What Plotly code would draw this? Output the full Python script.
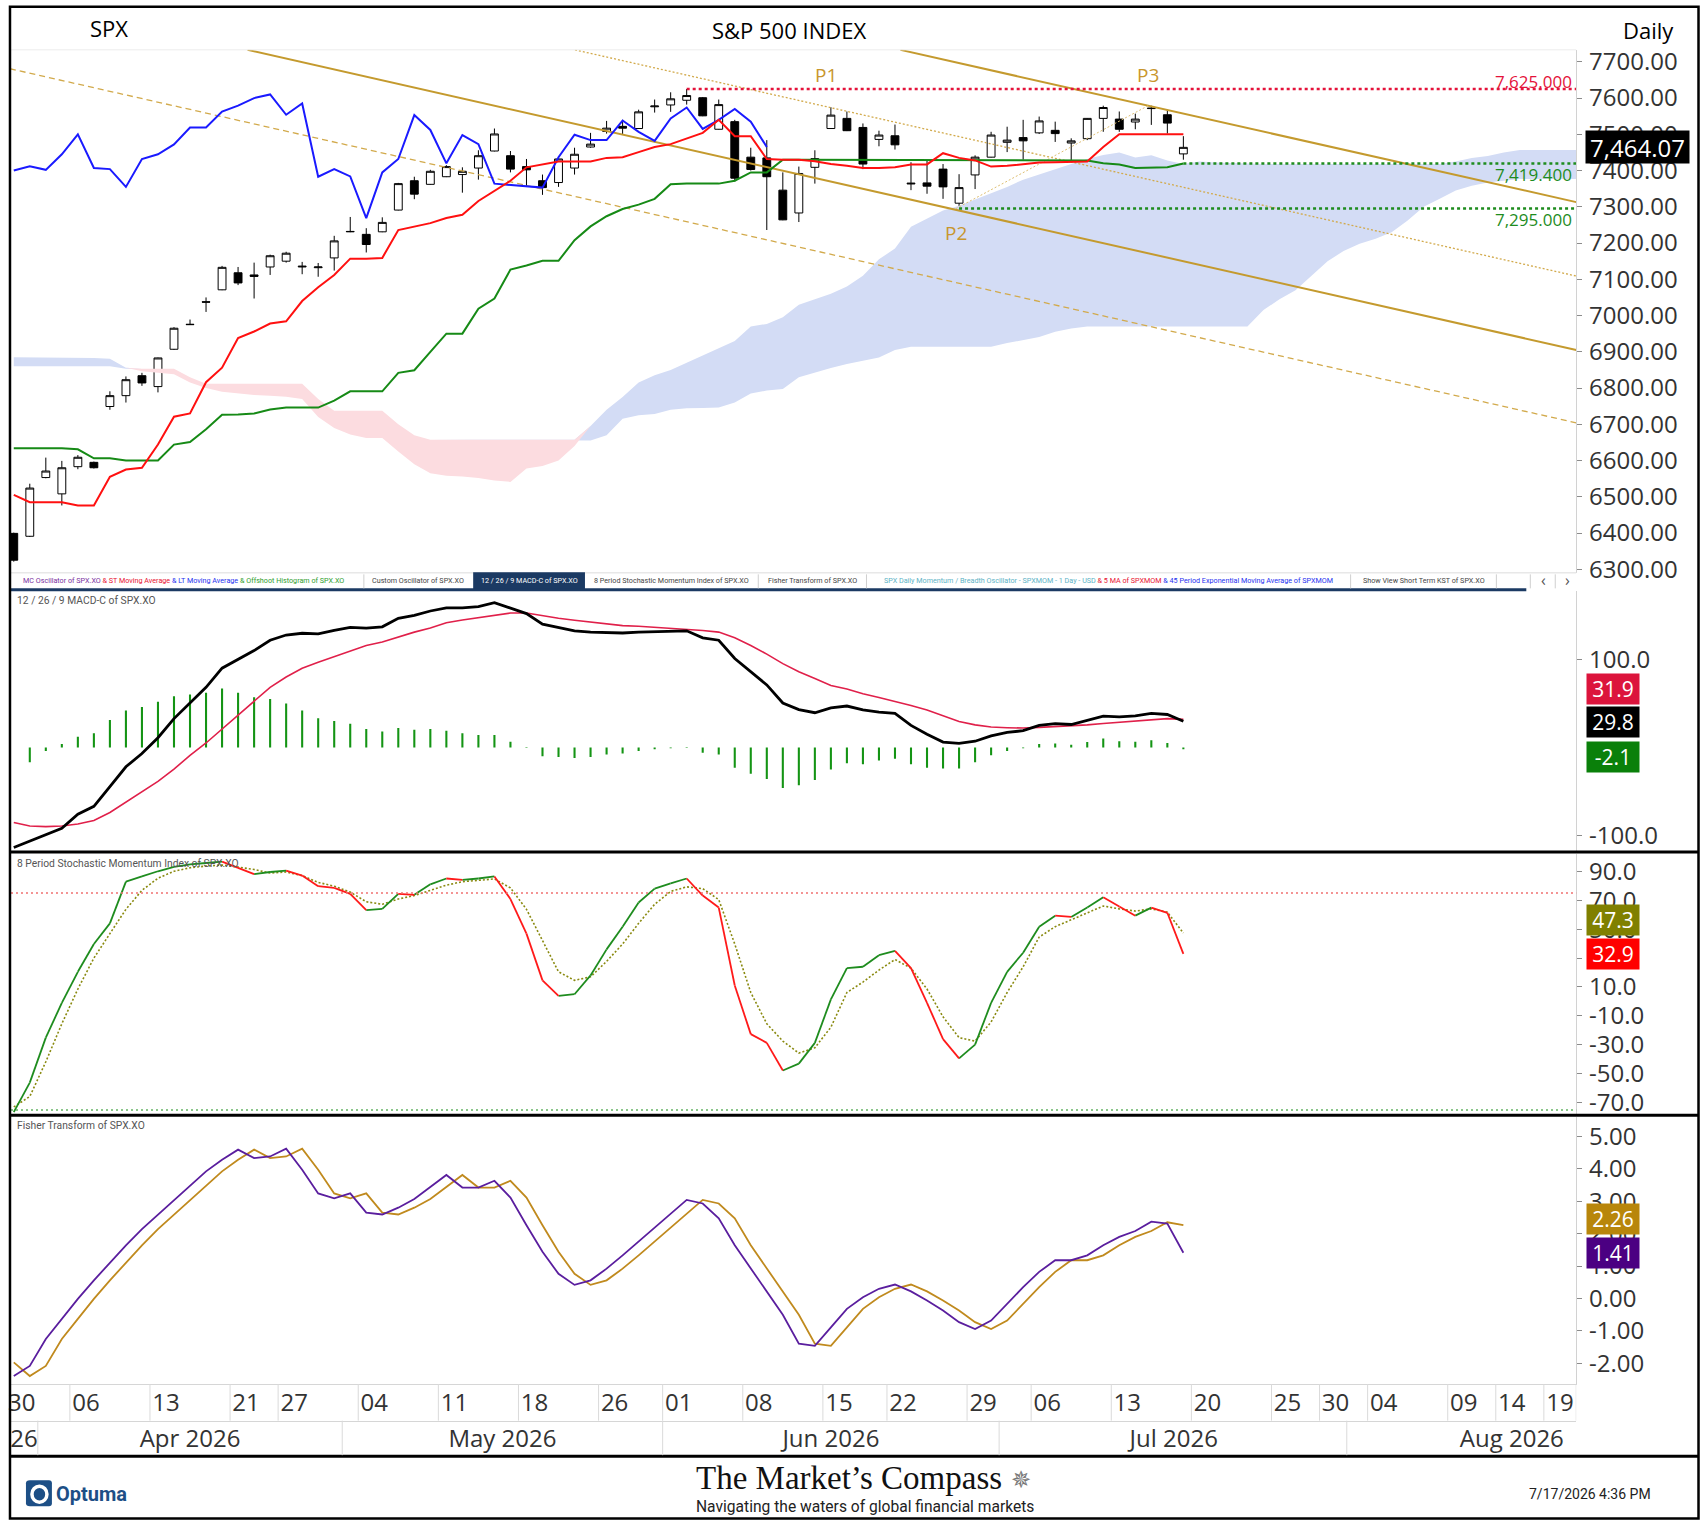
import plotly.graph_objects as go

W, H = 1702, 1531
FONT = "Open Sans"
NARROW = "Roboto"

# ---------------- data (bar 0 = 30 Mar 2026, bar 73 = 17 Jul 2026) ----------------
bar_open = [6399, 6391, 6553, 6508, 6583, 6595, 6749, 6779, 6834, 6804,
            6907, 6976, 7038, 7071, 7118, 7112, 7134, 7150, 7134, 7132,
            7159, 7231, 7224, 7231, 7291, 7372, 7362, 7383, 7389, 7407,
            7454, 7441, 7411, 7372, 7367, 7407, 7465, 7508, 7522, 7516,
            7576, 7581, 7594, 7601, 7514, 7535, 7437, 7435, 7346, 7283,
            7409, 7516, 7544, 7519, 7486, 7496, 7363, 7366, 7404, 7310,
            7388, 7437, 7478, 7491, 7504, 7511, 7476, 7488, 7544, 7542,
            7534, 7571, 7554, 7446]
bar_high = [6401, 6536, 6608, 6599, 6615, 6597, 6791, 6832, 6842, 6884,
            6968, 6989, 7050, 7137, 7134, 7146, 7168, 7176, 7148, 7145,
            7220, 7272, 7241, 7271, 7366, 7383, 7402, 7415, 7409, 7456,
            7516, 7454, 7432, 7389, 7437, 7463, 7504, 7537, 7540, 7568,
            7596, 7616, 7625, 7603, 7596, 7540, 7463, 7484, 7395, 7411,
            7456, 7575, 7563, 7530, 7510, 7527, 7423, 7428, 7418, 7390,
            7442, 7507, 7521, 7540, 7549, 7535, 7489, 7545, 7579, 7563,
            7557, 7579, 7568, 7495]
bar_low = [6321, 6389, 6551, 6476, 6576, 6578, 6740, 6760, 6806, 6788,
           6905, 6975, 7010, 7070, 7084, 7047, 7112, 7146, 7114, 7107,
           7124, 7230, 7174, 7230, 7290, 7321, 7361, 7382, 7339, 7375,
           7453, 7395, 7358, 7333, 7355, 7389, 7463, 7502, 7501, 7515,
           7560, 7562, 7582, 7550, 7513, 7370, 7400, 7236, 7263, 7258,
           7364, 7515, 7509, 7404, 7467, 7458, 7346, 7336, 7322, 7295,
           7349, 7436, 7451, 7430, 7501, 7479, 7426, 7484, 7507, 7507,
           7514, 7526, 7502, 7430]
bar_close = [6325, 6524, 6571, 6580, 6609, 6580, 6779, 6823, 6814, 6883,
             6965, 6975, 7037, 7133, 7090, 7108, 7165, 7172, 7136, 7134,
             7206, 7232, 7196, 7257, 7364, 7335, 7398, 7411, 7398, 7441,
             7501, 7404, 7402, 7353, 7432, 7445, 7473, 7517, 7517, 7562,
             7578, 7598, 7607, 7551, 7582, 7379, 7403, 7383, 7264, 7392,
             7433, 7553, 7510, 7418, 7498, 7471, 7365, 7357, 7355, 7353,
             7437, 7498, 7484, 7482, 7537, 7502, 7482, 7544, 7574, 7514,
             7542, 7572, 7531, 7464.07]

tenkan = [6505, 6485, 6485, 6485, 6476, 6476, 6555, 6575, 6580, 6644,
          6721, 6730, 6816, 6856, 6938, 6956, 6978, 6984, 7040, 7078,
          7112, 7157, 7157, 7159, 7236, 7246, 7255, 7269, 7278, 7316,
          7344, 7372, 7409, 7418, 7425, 7425, 7425, 7435, 7437, 7451,
          7465, 7473, 7489, 7504, 7540, 7495, 7495, 7432, 7430, 7430,
          7426, 7418, 7413, 7407, 7407, 7409, 7417, 7417, 7448, 7435,
          7428, 7411, 7413, 7417, 7422, 7423, 7423, 7425, 7465, 7500,
          7500, 7500, 7500, 7500]
kijun = [6634, 6634, 6634, 6634, 6631, 6606, 6606, 6600, 6600, 6600,
         6644, 6651, 6686, 6726, 6727, 6730, 6741, 6746, 6746, 6746,
         6765, 6791, 6791, 6791, 6842, 6849, 6900, 6950, 6950, 7019,
         7047, 7127, 7138, 7151, 7151, 7208, 7246, 7274, 7294, 7306,
         7322, 7362, 7364, 7364, 7364, 7372, 7395, 7395, 7430, 7430,
         7430, 7430, 7430, 7430, 7430, 7430, 7430, 7430, 7430, 7430,
         7430, 7430, 7430, 7430, 7430, 7430, 7430, 7428, 7420, 7417,
         7407, 7408, 7409, 7419.4]
chikou = [7400, 7412, 7402, 7445, 7500, 7407, 7404, 7355, 7432, 7445,
          7472, 7519, 7519, 7563, 7579, 7600, 7610, 7554, 7585, 7383,
          7404, 7384, 7269, 7395, 7432, 7553, 7512, 7420, 7498, 7473,
          7364, 7361, 7358, 7353, 7437, 7499, 7484, 7484, 7538, 7507,
          7482, 7544, 7574, 7515, 7540, 7570, 7535, 7465]
span_a = [6885, 6885, 6885, 6885, 6884, 6883, 6881, 6856, 6846, 6842,
          6838, 6815, 6800, 6790, 6785, 6781, 6779, 6776, 6770, 6720,
          6690, 6672, 6662, 6662, 6625, 6590, 6565, 6558, 6556, 6552,
          6545, 6541, 6578, 6585, 6600, 6640, 6695, 6740, 6775, 6815,
          6835, 6850, 6870, 6890, 6910, 6930, 6970, 6977, 6995, 7030,
          7045, 7060, 7080, 7110, 7155, 7185, 7245, 7268, 7290, 7303,
          7320, 7338, 7355, 7375, 7390, 7403, 7418, 7432, 7443, 7450,
          7436, 7442, 7428, 7418, 7425, 7422, 7420, 7418, 7418, 7418,
          7418, 7418, 7418, 7418, 7418, 7418, 7418, 7418, 7418, 7418,
          7425, 7435, 7440, 7450, 7457, 7457, 7457, 7457, 7457, 7457]
span_b = [6860, 6860, 6860, 6860, 6860, 6860, 6860, 6853, 6853, 6853,
          6853, 6830, 6812, 6812, 6812, 6812, 6812, 6812, 6812, 6770,
          6737, 6737, 6737, 6737, 6700, 6670, 6657, 6657, 6657, 6657,
          6657, 6657, 6657, 6657, 6657, 6657, 6655, 6670, 6715, 6725,
          6728, 6740, 6744, 6745, 6746, 6760, 6785, 6793, 6797, 6830,
          6843, 6855, 6866, 6876, 6884, 6905, 6914, 6914, 6914, 6914,
          6914, 6914, 6924, 6932, 6941, 6955, 6964, 6970, 6970, 6970,
          6970, 6970, 6970, 6970, 6970, 6970, 6970, 6970, 7015, 7045,
          7070, 7110, 7150, 7178, 7198, 7212, 7230, 7262, 7300, 7322,
          7345, 7358, 7367, 7372, 7377, 7377, 7377, 7377, 7377, 7377]

macd = [-113.8, -106.7, -100, -92, -76, -67, -44.5, -22, -7, 11,
        32.7, 50.5, 68.3, 90, 100, 110, 121.8, 127.7, 129.7, 128.9,
        133, 136.4, 135.6, 137, 146.7, 150, 155, 158.6, 158.6, 160,
        164.5, 158, 152, 140, 136.4, 132.5, 131, 130.5, 130, 131,
        131.7, 132.5, 132.5, 124.5, 121.8, 101, 86, 71, 50.5, 43,
        39.4, 45, 47, 42.6, 40, 38.6, 25, 15, 6, 4.5,
        7, 13, 17, 19, 25, 27, 26, 31, 35.5, 34.7,
        35.8, 38.6, 37.4, 29.8]
macd_signal = [-85.3, -89.3, -90, -89.3, -87, -83, -74, -62, -50.5, -38.6,
               -24.7, -9, 5, 20.8, 36.6, 52.5, 68.3, 80, 90, 96.8,
               103, 110, 115.8, 119.8, 125.7, 131, 135.6, 141.6, 144.7, 147.5,
               150.7, 152.7, 152.7, 149.5, 146.7, 144.4, 142.4, 140.4, 138.4, 137.6,
               136.4, 135.6, 134.8, 132.9, 131, 124.5, 115.8, 106, 95.2, 86,
               78.2, 70.3, 66.3, 61, 56.8, 52.5, 47.7, 42.6, 35.8, 29.5,
               25.6, 23.2, 22.4, 22, 22.8, 23.6, 24, 25.6, 27.1, 28.3,
               29.5, 31, 32.7, 31.9]
macd_hist = [None, -17, -4, 4, 12, 16, 31, 42, 46, 52,
             58, 60, 62, 67, 62, 57, 55, 50, 42, 33,
             30, 27, 21, 18, 22, 20, 21, 19, 16, 14,
             14, 6.5, 0.5, -10, -11, -12, -11, -8, -7, -4,
             -2, -1, 0.5, -6, -8, -23, -30, -36, -46, -43,
             -37, -25, -18, -19, -15, -13, -19, -23, -24, -24,
             -17, -9, -4, -1, 4, 4.5, 3, 6, 10, 7,
             6.5, 8, 5, -2.1]

smi = [-76.5, -56.1, -25, -1, 20.5, 39.7, 54, 82.8, 86.4, 90,
       93, 94.8, 95.7, 96.7, 92.4, 88, 89.5, 90.5, 87, 79.7,
       78.5, 74.4, 63.2, 64, 74.4, 73.7, 81, 85, 84, 85,
       86.4, 70.8, 46.9, 14.6, 3.8, 5, 18, 36, 51.7, 68.4,
       78, 81.6, 85, 73.2, 64.9, 11, -22.6, -28.6, -47.7, -43,
       -28.6, 1.4, 23, 24, 32, 35, 23, -1, -26, -39.3,
       -29.8, -1, 20.5, 33.7, 51.7, 59.3, 58.4, 64.9, 72, 65.6,
       59.3, 64.9, 61.3, 32.9]
smi_signal = [-72.9, -65.7, -41.7, -15.4, 8.6, 30, 46.9, 63.7, 76.8, 85.2,
              90, 92.4, 93.6, 94.3, 92.9, 91.2, 88.8, 89.5, 87, 82.3,
              79.7, 75.6, 68.9, 67.2, 70.8, 73.2, 76.8, 80.4, 82.8, 84,
              84.7, 78.5, 63.7, 42.1, 20.5, 14.6, 17, 27.7, 39.7, 54,
              67.2, 76.1, 79.2, 78, 70.4, 39.7, 6.2, -15.4, -27.4, -35.7,
              -32, -17.8, 6.2, 13.4, 21.7, 29, 23, 8.6, -10.6, -25,
              -27.4, -14.2, 6.2, 24, 44.5, 51.7, 56.5, 61.3, 66, 64,
              62.5, 64, 61.7, 47.3]
smi_levels = [75, -75]

fisher = [-2.39, -2.08, -1.25, -0.63, -0.01, 0.56, 1.11, 1.64, 2.14, 2.59,
          3.04, 3.48, 3.92, 4.28, 4.59, 4.33, 4.38, 4.62, 3.97, 3.24,
          3.09, 3.24, 2.65, 2.59, 2.80, 3.07, 3.43, 3.81, 3.42, 3.42,
          3.63, 3.11, 2.26, 1.44, 0.76, 0.42, 0.56, 0.92, 1.33, 1.75,
          2.18, 2.59, 3.04, 2.93, 2.47, 1.64, 0.92, 0.22, -0.50, -1.39,
          -1.46, -0.89, -0.32, 0.04, 0.30, 0.43, 0.22, -0.06, -0.37, -0.73,
          -0.94, -0.68, -0.17, 0.35, 0.82, 1.18, 1.18, 1.33, 1.64, 1.90,
          2.08, 2.37, 2.31, 1.41]
fisher_trigger = [-1.97, -2.39, -2.08, -1.25, -0.63, -0.01, 0.56, 1.11, 1.64, 2.14,
                  2.59, 3.04, 3.48, 3.92, 4.28, 4.59, 4.33, 4.38, 4.62, 3.97,
                  3.24, 3.09, 3.24, 2.65, 2.59, 2.80, 3.07, 3.43, 3.81, 3.42,
                  3.42, 3.63, 3.11, 2.26, 1.44, 0.76, 0.42, 0.56, 0.92, 1.33,
                  1.75, 2.18, 2.59, 3.04, 2.93, 2.47, 1.64, 0.92, 0.22, -0.50,
                  -1.39, -1.46, -0.89, -0.32, 0.04, 0.30, 0.43, 0.22, -0.06, -0.37,
                  -0.73, -0.94, -0.68, -0.17, 0.35, 0.82, 1.18, 1.18, 1.33, 1.64,
                  1.90, 2.08, 2.35, 2.26]

# drawn channel (anchor points: [bar index], [price])
channel_upper = ([55.34, 97.52], [7733, 7313])
channel_lower = ([14.59, 97.52], [7733, 6905])
channel_median = ([35.03, 97.52], [7733, 7109])
channel_outer = ([-0.24, 97.52], [7681, 6704])
pivot_connector = ([58.8, 70.8], [7295, 7579])
pivot_names = ["P1", "P2", "P3"]
pivot_label_x = [50.7, 58.8, 70.8]
pivot_label_y = [7664, 7229, 7664]
resistance_level, resistance_from = 7625, 42
support_level, support_from = 7295, 59

price_ticks = [6300, 6400, 6500, 6600, 6700, 6800, 6900, 7000, 7100, 7200, 7300, 7400, 7500, 7600, 7700]
macd_ticks = [100, -100]
smi_ticks = [90, 70, 50, 30, 10, -10, -30, -50, -70]
fisher_ticks = [5, 4, 3, 2, 1, 0, -1, -2]

day_tick_slot = [0, 4, 9, 14, 17, 22, 27, 32, 37, 41, 46, 51, 55, 60, 64, 69, 74, 79, 82, 85, 90, 93, 96]
day_tick_text = ["30", "06", "13", "21", "27", "04", "11", "18", "26", "01", "08", "15",
                 "22", "29", "06", "13", "20", "25", "30", "04", "09", "14", "19"]
month_start_slot = [2, 21, 41, 62, 83.7]
month_label_slot = [0.64, 11.0, 30.5, 51.0, 72.4, 93.5]
month_text = ["26", "Apr 2026", "May 2026", "Jun 2026", "Jul 2026", "Aug 2026"]

# ---------------- geometry ----------------
N = len(bar_close)
idx = list(range(N))
cloud_idx = list(range(len(span_a)))
XR = [-0.174, 97.52]

# the photographed page shows the canvas slightly squeezed vertically; place items so they land on target
V_OFF, V_SCALE = 6.2, 0.9886


def px(x):
    return x / W


def py(y):
    return 1 - ((y - V_OFF) / V_SCALE) / H


XD = [px(8), px(1576)]
GOLD = "#C49A2E"
GOLD_L = "#D2AA4C"
CRIMSON = "#E4123A"
GREEN = "#1E8C1E"

fig = go.Figure()
skip = dict(hoverinfo="skip", showlegend=False)

# ---- Ichimoku cloud ----
blue_top = [a if a >= b else b for a, b in zip(span_a, span_b)]
pink_top = [b if b >= a else a for a, b in zip(span_a, span_b)]
fig.add_trace(go.Scatter(x=cloud_idx, y=span_b, mode="lines", line=dict(width=0), **skip))
fig.add_trace(go.Scatter(x=cloud_idx, y=blue_top, mode="lines", line=dict(width=0),
                         fill="tonexty", fillcolor="#D3DCF5", **skip))
fig.add_trace(go.Scatter(x=cloud_idx, y=span_a, mode="lines", line=dict(width=0), **skip))
fig.add_trace(go.Scatter(x=cloud_idx, y=pink_top, mode="lines", line=dict(width=0),
                         fill="tonexty", fillcolor="#FCDCE0", **skip))

# ---- channel lines ----
for (cx, cy), dash, col, wd in [(channel_outer, "6px,4px", GOLD_L, 1.3),
                                (channel_median, "2px,2px", GOLD_L, 1.3),
                                (channel_upper, "solid", GOLD, 2),
                                (channel_lower, "solid", GOLD, 2),
                                (pivot_connector, "2px,2px", "#DDBE72", 1)]:
    fig.add_trace(go.Scatter(x=cx, y=cy, mode="lines", line=dict(color=col, width=wd, dash=dash), **skip))

# ---- candles ----
fig.add_trace(go.Candlestick(x=idx, open=bar_open, high=bar_high, low=bar_low, close=bar_close,
                             increasing=dict(fillcolor="white", line=dict(color="black", width=1)),
                             decreasing=dict(fillcolor="black", line=dict(color="black", width=1)),
                             whiskerwidth=0, hoverinfo="skip", showlegend=False))

# ---- Ichimoku lines ----
fig.add_trace(go.Scatter(x=idx[:len(chikou)], y=chikou, mode="lines", line=dict(color="#1A1AFF", width=2), **skip))
fig.add_trace(go.Scatter(x=idx, y=kijun, mode="lines", line=dict(color="#168A16", width=2), **skip))
fig.add_trace(go.Scatter(x=idx, y=tenkan, mode="lines", line=dict(color="#FF1010", width=2), **skip))

# ---- horizontal levels ----
fig.add_trace(go.Scatter(x=[resistance_from, XR[1]], y=[resistance_level, resistance_level], mode="lines",
                         line=dict(color=CRIMSON, width=2.5, dash="3px,3px"), **skip))
fig.add_trace(go.Scatter(x=[support_from, XR[1]], y=[support_level, support_level], mode="lines",
                         line=dict(color=GREEN, width=2.5, dash="3px,3px"), **skip))
fig.add_trace(go.Scatter(x=[idx[-1], XR[1]], y=[kijun[-1], kijun[-1]], mode="lines",
                         line=dict(color=GREEN, width=2.5, dash="3px,3px"), **skip))

# ---- MACD ----
fig.add_trace(go.Bar(x=idx, y=macd_hist, width=0.13, marker=dict(color="#149414", line=dict(width=0)),
                     xaxis="x2", yaxis="y2", **skip))
fig.add_trace(go.Scatter(x=idx, y=macd_signal, mode="lines", line=dict(color="#E0204A", width=1.6),
                         xaxis="x2", yaxis="y2", **skip))
fig.add_trace(go.Scatter(x=idx, y=macd, mode="lines", line=dict(color="black", width=2.8),
                         xaxis="x2", yaxis="y2", **skip))

# ---- Stochastic momentum index ----
fig.add_trace(go.Scatter(x=idx, y=smi_signal, mode="lines", line=dict(color="#8A8A10", width=1.6, dash="2px,2px"),
                         xaxis="x3", yaxis="y3", **skip))
up_x, up_y, dn_x, dn_y = [], [], [], []
for i in range(N - 1):
    if smi[i + 1] >= smi[i]:
        up_x += [i, i + 1, None]
        up_y += [smi[i], smi[i + 1], None]
    else:
        dn_x += [i, i + 1, None]
        dn_y += [smi[i], smi[i + 1], None]
fig.add_trace(go.Scatter(x=up_x, y=up_y, mode="lines", line=dict(color="#1E8C1E", width=1.8),
                         xaxis="x3", yaxis="y3", **skip))
fig.add_trace(go.Scatter(x=dn_x, y=dn_y, mode="lines", line=dict(color="#FF1A1A", width=1.8),
                         xaxis="x3", yaxis="y3", **skip))

# ---- Fisher transform ----
fig.add_trace(go.Scatter(x=idx, y=fisher_trigger, mode="lines", line=dict(color="#C08A1E", width=1.8),
                         xaxis="x4", yaxis="y4", **skip))
fig.add_trace(go.Scatter(x=idx, y=fisher, mode="lines", line=dict(color="#5A1E9E", width=1.8),
                         xaxis="x4", yaxis="y4", **skip))
fig.add_trace(go.Scatter(x=[None], y=[None], xaxis="x5", yaxis="y4", **skip))

# ---------------- axes ----------------
tickfont = dict(family=FONT, size=24, color="#333333")


def xax(anchor):
    return dict(range=XR, domain=XD, anchor=anchor, showgrid=False, zeroline=False,
                showticklabels=False, ticks="", showline=False, fixedrange=True)


def yax(dom, rng, vals, fmt, anchor):
    return dict(domain=dom, range=rng, side="right", anchor=anchor, tickmode="array",
                tickvals=vals, ticktext=[fmt.format(v) for v in vals],
                showgrid=False, zeroline=False, showline=True, linecolor="#d2d2d2", linewidth=1,
                ticks="outside", ticklen=5, tickcolor="#8c8c8c", tickfont=tickfont,
                ticklabelstandoff=2, fixedrange=True)


xa1 = xax("y")
xa1["rangeslider"] = dict(visible=False)
xa4 = dict(range=XR, domain=XD, anchor="y4", showgrid=False, zeroline=False, tickmode="array",
           tickvals=[s + 0.5 for s in day_tick_slot], ticktext=day_tick_text, ticks="",
           tickfont=tickfont, showline=True, linecolor="#d6d6d6", linewidth=1, fixedrange=True,
           ticklabelstandoff=-3)
xa5 = dict(range=XR, domain=XD, overlaying="x4", anchor="free", position=py(1420.5), showgrid=False,
           zeroline=False, tickmode="array", tickvals=month_label_slot, ticktext=month_text, ticks="",
           tickfont=tickfont, showline=True, linecolor="#d6d6d6", linewidth=1, fixedrange=True,
           ticklabelstandoff=-3)

fig.update_layout(
    width=W, height=H, margin=dict(l=0, r=0, t=0, b=0),
    paper_bgcolor="white", plot_bgcolor="white", showlegend=False, hovermode=False,
    xaxis=xa1, xaxis2=xax("y2"), xaxis3=xax("y3"), xaxis4=xa4, xaxis5=xa5,
    yaxis=yax([py(574), py(51)], [6288.7, 7733.1], price_ticks, "{:.2f}", "x"),
    yaxis2=yax([py(852), py(592)], [-118.4, 177.3], macd_ticks, "{:.1f}", "x2"),
    yaxis3=yax([py(1114), py(854)], [-77.7, 102.2], smi_ticks, "{:.1f}", "x3"),
    yaxis4=yax([py(1384), py(1117)], [-2.64, 5.60], fisher_ticks, "{:.2f}", "x4"),
)

# ---------------- shapes ----------------
shapes = []


def hline(y, x0, x1, color, width, dash=None):
    shapes.append(dict(type="line", xref="paper", yref="paper", x0=px(x0), x1=px(x1), y0=py(y), y1=py(y),
                       line=dict(color=color, width=width, dash=dash)))


def vline(x, y0, y1, color, width):
    shapes.append(dict(type="line", xref="paper", yref="paper", x0=px(x), x1=px(x), y0=py(y0), y1=py(y1),
                       line=dict(color=color, width=width)))


def rect(x0, y0, x1, y1, fill, line_color=None, lw=0):
    shapes.append(dict(type="rect", xref="paper", yref="paper", x0=px(x0), x1=px(x1), y0=py(y1), y1=py(y0),
                       fillcolor=fill, line=dict(color=line_color or fill, width=lw)))


hline(51, 8, 1576, "#ececec", 1)
# tab bar
rect(8, 573, 1576, 590, "white")
hline(573.5, 8, 1576, "#dcdcdc", 1)
rect(471, 573, 583, 590, "#1B3A63")
rect(8, 589, 1526, 592, "#1B3A63")
for sx in [361.5, 756.6, 865, 1350, 1496, 1530, 1555]:
    vline(sx, 575, 589, "#cfcfcf", 1)
# heavy separators
hline(852.5, 6.5, 1699, "black", 3)
hline(1115.5, 6.5, 1699, "black", 3)
hline(1456, 6.5, 1699, "black", 3)
# stochastic levels
for lv, col in zip(smi_levels, ["#F07070", "#63B463"]):
    shapes.append(dict(type="line", xref="paper", yref="y3", x0=XD[0], x1=XD[1], y0=lv, y1=lv,
                       line=dict(color=col, width=1.6, dash="2px,3px")))
# date axis separators
for s in day_tick_slot + [XR[1] + 0.5]:
    xs = s - 0.5
    if XR[0] < xs <= XR[1]:
        shapes.append(dict(type="line", xref="x4", yref="paper", x0=xs, x1=xs, y0=py(1384), y1=py(1420.5),
                           line=dict(color="#dadada", width=1)))
for s in month_start_slot:
    xs = s - 0.5
    shapes.append(dict(type="line", xref="x4", yref="paper", x0=xs, x1=xs, y0=py(1420.5), y1=py(1455),
                       line=dict(color="#dadada", width=1)))
# Optuma icon
shapes.append(dict(type="path", xref="paper", yref="paper",
                   path=" ".join([f"M {px(27)},{py(1480)}", f"L {px(46)},{py(1480)}",
                                  f"Q {px(49)},{py(1480)} {px(49)},{py(1483)}", f"L {px(49)},{py(1503)}",
                                  f"Q {px(49)},{py(1506)} {px(46)},{py(1506)}", f"L {px(27)},{py(1506)}",
                                  f"Q {px(23)},{py(1506)} {px(23)},{py(1503)}", f"L {px(23)},{py(1483)}",
                                  f"Q {px(23)},{py(1480)} {px(27)},{py(1480)} Z"]),
                   fillcolor="#1D4F86", line=dict(color="#1D4F86", width=0)))
shapes.append(dict(type="circle", xref="paper", yref="paper", x0=px(29), x1=px(44), y0=py(1502), y1=py(1486),
                   fillcolor="rgba(0,0,0,0)", line=dict(color="white", width=3.5)))
# outer border
shapes.append(dict(type="rect", xref="paper", yref="paper", x0=px(7), x1=px(1698.5),
                   y0=max(py(1526), 1.5 / H), y1=py(8),
                   line=dict(color="black", width=2.5), fillcolor="rgba(0,0,0,0)"))
fig.update_layout(shapes=shapes)

# ---------------- annotations ----------------
ann = []


def note(t, x, y, size, color="#000", family=FONT, xanchor="center", yanchor="middle",
         xref="paper", yref="paper", **kw):
    ann.append(dict(text=t, x=x, y=y, xref=xref, yref=yref, xanchor=xanchor, yanchor=yanchor,
                    showarrow=False, font=dict(family=family, size=size, color=color), **kw))


note("SPX", px(106), py(29.5), 22)
note("S&P 500 INDEX", px(787), py(31), 22)
note("Daily", px(1648), py(31), 22)

for nm, lx, ly in zip(pivot_names, pivot_label_x, pivot_label_y):
    note(nm, lx, ly, 19, color="#C8962D", xref="x", yref="y")

note(f"{resistance_level:,.3f}", XR[1], resistance_level, 17, CRIMSON, xanchor="right", xref="x", yref="y",
     yshift=8, xshift=-2)
note(f"{kijun[-1]:,.3f}", XR[1], kijun[-1], 17, GREEN, xanchor="right", xref="x", yref="y", yshift=-11, xshift=-2)
note(f"{support_level:,.3f}", XR[1], support_level, 17, GREEN, xanchor="right", xref="x", yref="y",
     yshift=-11, xshift=-2)

note(f"{bar_close[-1]:,.2f}", px(1585), bar_close[-1], 24, "white", xanchor="left", yref="y",
     bgcolor="black", width=101, height=30)

box = dict(width=50, height=28)
note(f"{macd_signal[-1]:.1f}", px(1586), py(690), 21, "white", xanchor="left", bgcolor="#DC143C", **box)
note(f"{macd[-1]:.1f}", px(1586), py(723), 21, "white", xanchor="left", bgcolor="black", **box)
note(f"{macd_hist[-1]:.1f}", px(1586), py(757), 21, "white", xanchor="left", bgcolor="#0A800A", **box)
note(f"{smi_signal[-1]:.1f}", px(1586), py(920), 21, "white", xanchor="left", bgcolor="#808000", **box)
note(f"{smi[-1]:.1f}", px(1586), py(954), 21, "white", xanchor="left", bgcolor="#FF0000", **box)
note(f"{fisher_trigger[-1]:.2f}", px(1586), py(1219), 21, "white", xanchor="left", bgcolor="#B8860B", **box)
note(f"{fisher[-1]:.2f}", px(1586), py(1253), 21, "white", xanchor="left", bgcolor="#4B0082", **box)

note("12 / 26 / 9 MACD-C of SPX.XO", px(12), py(601), 10.3, "#555555", family=NARROW, xanchor="left")
note("8 Period Stochastic Momentum Index of SPX.XO", px(12), py(864), 10.3, "#555555", family=NARROW,
     xanchor="left")
note("Fisher Transform of SPX.XO", px(12), py(1126), 10.3, "#555555", family=NARROW, xanchor="left")

tab_y = py(581)
TS = 7.2
tab1 = ("<span style='color:#7A2FA0'>MC Oscillator of SPX.XO</span>"
        "<span style='color:#E8102F'> &amp; ST Moving Average</span>"
        "<span style='color:#2530F0'> &amp; LT Moving Average</span>"
        "<span style='color:#2E9E2E'> &amp; Offshoot Histogram of SPX.XO</span>")
tab6 = ("<span style='color:#5DB3C6'>SPX Daily Momentum / Breadth Oscillator - SPXMOM - 1 Day - USD</span>"
        "<span style='color:#E8102F'> &amp; 5 MA of SPXMOM</span>"
        "<span style='color:#2530F0'> &amp; 45 Period Exponential Moving Average of SPXMOM</span>")
note(tab1, px(181), tab_y, TS, family=NARROW)
note("Custom Oscillator of SPX.XO", px(416), tab_y, TS, "#444", family=NARROW)
note("12 / 26 / 9 MACD-C of SPX.XO", px(527), tab_y, TS, "white", family=NARROW)
note("8 Period Stochastic Momentum Index of SPX.XO", px(670), tab_y, TS, "#444", family=NARROW)
note("Fisher Transform of SPX.XO", px(811), tab_y, TS, "#444", family=NARROW)
note(tab6, px(1107), tab_y, TS, family=NARROW)
note("Show View Short Term KST of SPX.XO", px(1424), tab_y, TS, "#444", family=NARROW)
note("\u2039", px(1543), tab_y, 16, "#555")
note("\u203a", px(1567), tab_y, 16, "#555")

note("<b>Optuma</b>", px(51), py(1494), 20, "#1D4F86", family=NARROW, xanchor="left")
note("The Market\u2019s Compass", px(847), py(1478), 33, "#111", family="Liberation Serif")
note("\u2735", px(1020), py(1478), 24, "#777777")
note("Navigating the waters of global financial markets", px(864), py(1507), 15.6, "#222", family=NARROW)
note("7/17/2026 4:36 PM", px(1590), py(1494), 14, "#222", family=NARROW)

fig.update_layout(annotations=ann)

fix_page = ("document.documentElement.style.margin='0';document.documentElement.style.overflow='hidden';"
            "document.body.style.margin='0';document.body.style.overflow='hidden';"
            "var gd=document.getElementById('{plot_id}');gd.style.position='fixed';"
            "gd.style.left='0px';gd.style.top='0px';")
fig.write_html("out.html", config={"displayModeBar": False, "staticPlot": True}, post_script=fix_page)
